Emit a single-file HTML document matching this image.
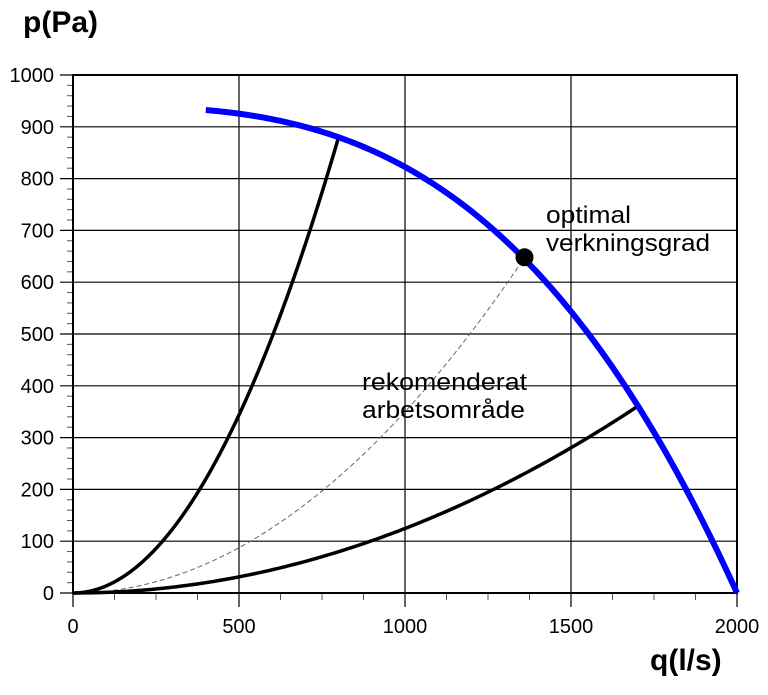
<!DOCTYPE html>
<html><head><style>body{margin:0;background:#fff}svg text{font-family:"Liberation Sans",Arial,sans-serif}</style></head>
<body>
<svg id="s" width="768" height="690" xmlns="http://www.w3.org/2000/svg">
<g id="grid" stroke="#000" stroke-width="1"></g>
<rect x="73" y="75" width="664" height="518" fill="none" stroke="#000" stroke-width="2"/>
<g id="curves"></g>
<circle cx="524.5" cy="257.3" r="9" fill="#000"/>
<g font-size="20" fill="#000" id="labels"></g>
<text x="23" y="32" font-size="30" font-weight="bold">p(Pa)</text>
<text x="650" y="670" font-size="30" font-weight="bold">q(l/s)</text>
<text x="546" y="223" font-size="24" textLength="85" lengthAdjust="spacingAndGlyphs">optimal</text>
<text x="546" y="251" font-size="24" textLength="164" lengthAdjust="spacingAndGlyphs">verkningsgrad</text>
<text x="362" y="390" font-size="24" textLength="165" lengthAdjust="spacingAndGlyphs">rekomenderat</text>
<text x="362" y="418" font-size="24" textLength="163" lengthAdjust="spacingAndGlyphs">arbetsområde</text>
</svg>
<script>
const X=q=>73+q*664/2000, Y=p=>593-p*0.518;
const ns="http://www.w3.org/2000/svg";
function el(par,t,a){const e=document.createElementNS(ns,t);for(const k in a)e.setAttribute(k,a[k]);document.getElementById(par).appendChild(e);return e;}
for(let p=0;p<=1000;p+=20){const y=Y(p);if(p%100==0){el("grid","line",{x1:60,x2:737,y1:y,y2:y,"stroke-width":1.2});el("labels","text",{x:54,y:y+7,"text-anchor":"end"}).textContent=p;}else el("grid","line",{x1:67,x2:73,y1:y,y2:y,stroke:"#555"});}
for(let q=0;q<=2000;q+=125){const x=X(q);if(q%500==0){el("grid","line",{x1:x,x2:x,y1:75,y2:607,"stroke-width":1.2});el("labels","text",{x:x,y:633,"text-anchor":"middle"}).textContent=q;}else el("grid","line",{x1:x,x2:x,y1:593,y2:600,stroke:"#555"});}
function path(f,a,b,attrs){let d="";for(let i=0;i<=200;i++){const q=a+(b-a)*i/200;d+=(i?"L":"M")+X(q).toFixed(2)+" "+Y(f(q)).toFixed(2);}attrs.d=d;attrs.fill="none";el("curves","path",attrs);}
path(q=>3.5e-4*q*q,0,1360,{stroke:"#666","stroke-width":1,"stroke-dasharray":"5,3"});
path(q=>1.375e-3*q*q,0,800,{stroke:"#000","stroke-width":3.5});
path(q=>1.246e-4*q*q,0,1700,{stroke:"#000","stroke-width":3.5});
path(q=>940*(1-Math.pow(q/2000,3)),400,2000,{stroke:"#0000ff","stroke-width":6});
</script>
</body></html>
